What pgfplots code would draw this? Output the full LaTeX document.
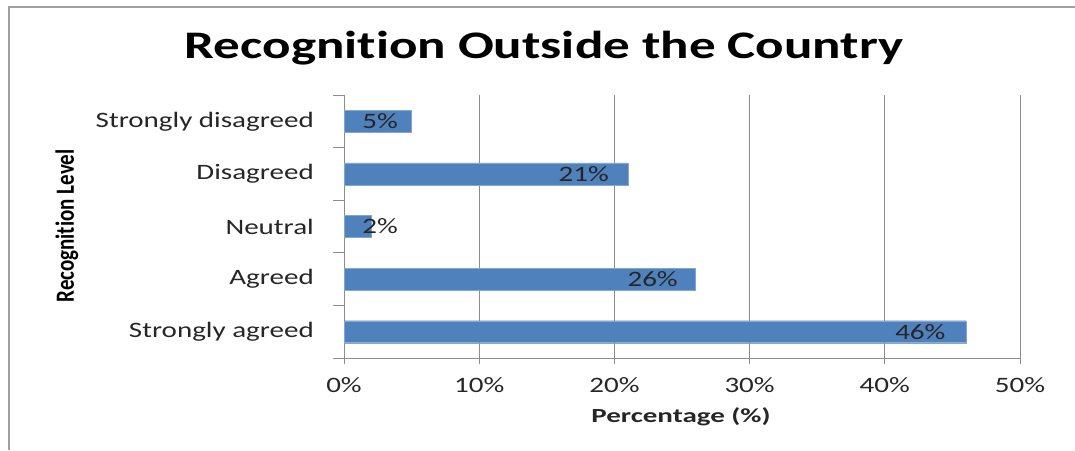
\documentclass[border=0pt]{standalone}
\usepackage{pgfplots}
\pgfplotsset{compat=1.18}
\usepackage{fontspec}
\setmainfont{Carlito}[FakeStretch=1.32, RawFeature=-liga]
\newfontfamily\titlefont{Carlito}[FakeStretch=1.36, RawFeature=-liga]
\newfontfamily\xlabfont{Carlito}[FakeStretch=1.45, RawFeature=-liga]
\newfontfamily\plainfont{Carlito}[RawFeature=-liga]
\definecolor{barblue}{HTML}{4F81BD}
\definecolor{gridgray}{HTML}{8C8C8C}
\definecolor{txt}{HTML}{262626}
\begin{document}
\begin{tikzpicture}[x=1pt,y=1pt]
\useasboundingbox (0,0) rectangle (1075,450);
\draw[gray!75, line width=2pt] (9,0) -- (9,443) -- (1075,443);
\begin{axis}[
  at={(344pt,92pt)}, anchor=south west,
  scale only axis, width=676pt, height=263pt,
  xmin=0, xmax=50, ymin=-0.5, ymax=4.5,
  axis lines*=left,
  axis line style={gridgray, line width=1pt},
  xtick={0,10,20,30,40,50},
  xticklabels={0\%,10\%,20\%,30\%,40\%,50\%},
  ytick={0,1,2,3,4},
  yticklabels={Strongly agreed,Agreed,Neutral,Disagreed,Strongly disagreed},
  minor ytick={-0.5,0.5,1.5,2.5,3.5,4.5},
  tick align=outside,
  major tick length=6pt,
  minor tick length=11pt,
  major y tick style={draw=none},
  tick style={gridgray, line width=1pt},
  xmajorgrids,
  major grid style={gridgray, line width=1pt},
  ticklabel style={font=\fontsize{22}{24}\selectfont, text=txt},
  yticklabel style={inner sep=0pt, xshift=-24pt, anchor=east},
  xticklabel style={inner sep=0pt, yshift=-13pt, anchor=north},
  /pgf/number format/assume math mode=true,
]
\addplot[xbar, bar width=22pt, fill=barblue, draw=barblue!70!white] coordinates {
  (46,0) (26,1) (2,2) (21,3) (5,4)
};
\addplot[draw=none, mark=none, nodes near coords, point meta=explicit symbolic,
  every node near coord/.style={anchor=east, inner sep=0pt, text=txt,
     font=\fontsize{22}{24}\selectfont}]
  table[meta=label] {
x y label
44.5 0 46\%
24.7 1 26\%
4.0 2 2\%
19.6 3 21\%
4.0 4 5\%
};
\end{axis}
\node[font=\titlefont\bfseries\fontsize{39}{41}\selectfont] at (544,402) {Recognition Outside the Country};
\node[font=\xlabfont\bfseries\fontsize{20}{22}\selectfont, text=txt] at (681,33) {Percentage (\%)};
\node[rotate=90, font=\plainfont\bfseries\fontsize{21}{23}\selectfont] at (67,224) {\scalebox{1}[1.25]{Recognition Level}};
\end{tikzpicture}
\end{document}
